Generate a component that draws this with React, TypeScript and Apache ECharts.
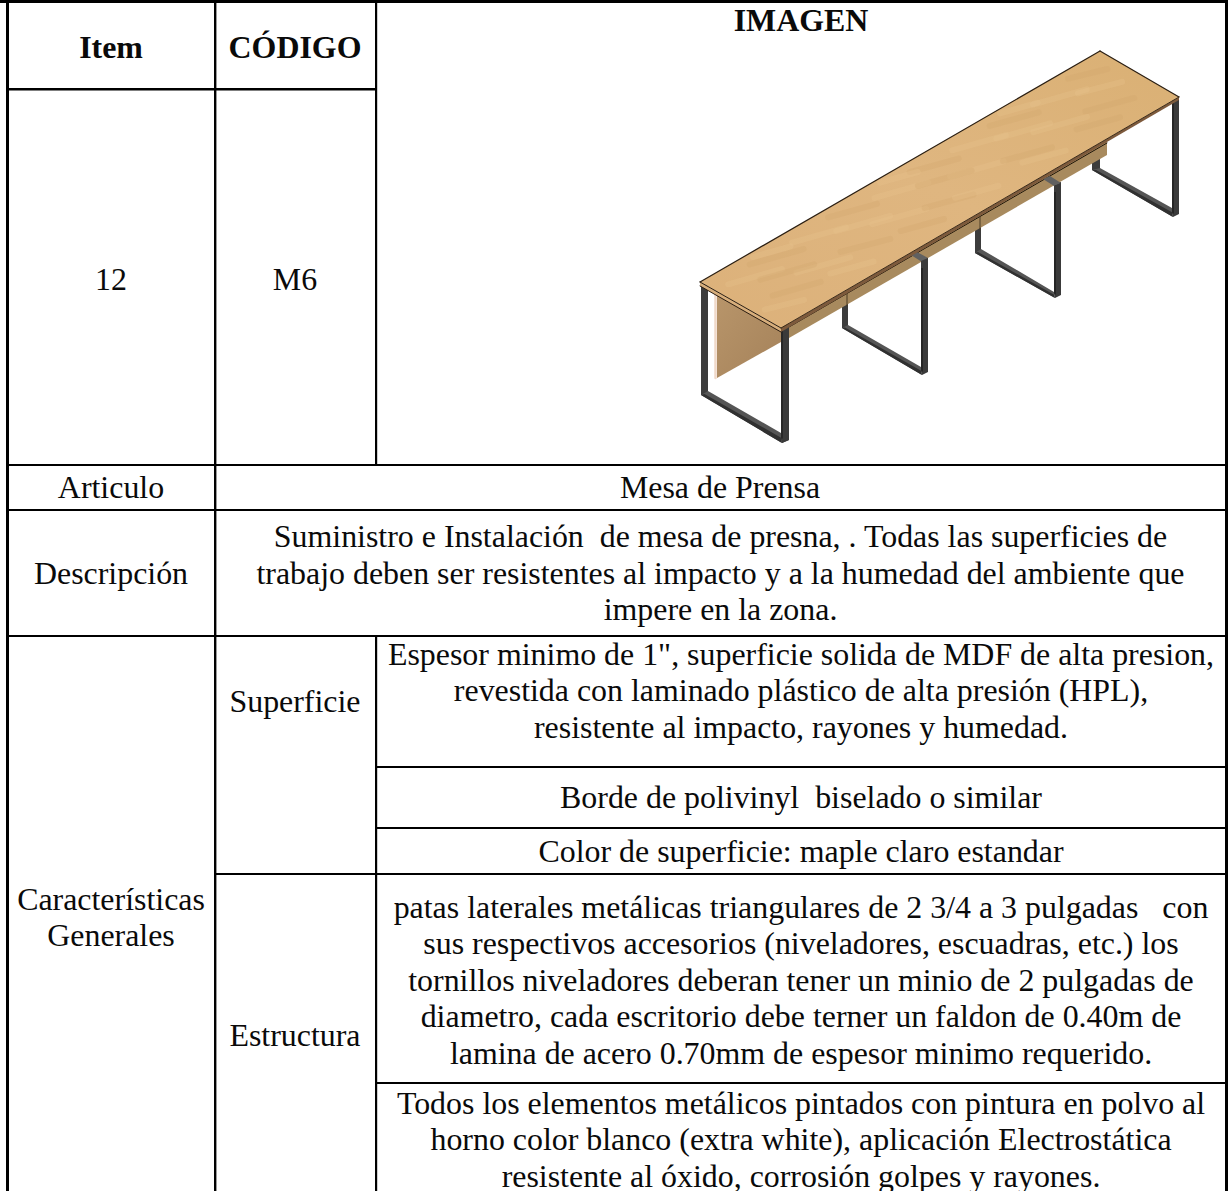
import React, { useEffect, useRef } from "react";
import * as echarts from "echarts";

const headerCells = ["Item", "CÓDIGO", "IMAGEN"];
const itemValue = "12";
const codeValue = "M6";
const articleLabel = "Articulo";
const articleValue = "Mesa de Prensa";
const descriptionLabel = "Descripción";
const descriptionLines = [
  "Suministro e Instalación  de mesa de presna, . Todas las superficies de",
  "trabajo deben ser resistentes al impacto y a la humedad del ambiente que",
  "impere en la zona.",
];
const generalLabel = ["Características", "Generales"];
const surfaceLabel = "Superficie";
const structureLabel = "Estructura";
const surfaceLines = [
  "Espesor minimo de 1\", superficie solida de MDF de alta presion,",
  "revestida con laminado plástico de alta presión (HPL),",
  "resistente al impacto, rayones y humedad.",
];
const edgeLine = "Borde de polivinyl  biselado o similar";
const colorLine = "Color de superficie: maple claro estandar";
const legLines = [
  "patas laterales metálicas triangulares de 2 3/4 a 3 pulgadas   con",
  "sus respectivos accesorios (niveladores, escuadras, etc.) los",
  "tornillos niveladores deberan tener un minio de 2 pulgadas de",
  "diametro, cada escritorio debe terner un faldon de 0.40m de",
  "lamina de acero 0.70mm de espesor minimo requerido.",
];
const paintLines = [
  "Todos los elementos metálicos pintados con pintura en polvo al",
  "horno color blanco (extra white), aplicación Electrostática",
  "resistente al óxido, corrosión golpes y rayones.",
];

// Wood grain strokes in table-top space: [along0, across0, along1, across1, lightness]
const grain: number[][] = [
  [0.03, 0.2, 0.13, 0.37, 1], [0.06, 0.6, 0.15, 0.75, 0], [0.1, 0.12, 0.2, 0.29, 0], [0.14, 0.5, 0.24, 0.67, 1],
  [0.2, 0.15, 0.3, 0.32, 1], [0.24, 0.55, 0.33, 0.72, 0], [0.3, 0.1, 0.39, 0.26, 0], [0.34, 0.45, 0.44, 0.62, 1],
  [0.4, 0.18, 0.5, 0.35, 1], [0.44, 0.6, 0.53, 0.76, 0], [0.5, 0.12, 0.59, 0.28, 0], [0.54, 0.42, 0.64, 0.59, 1],
  [0.6, 0.15, 0.7, 0.32, 1], [0.64, 0.58, 0.73, 0.74, 0], [0.7, 0.12, 0.79, 0.28, 0], [0.74, 0.46, 0.84, 0.63, 1],
  [0.8, 0.16, 0.9, 0.33, 1], [0.85, 0.56, 0.94, 0.72, 0], [0.9, 0.1, 0.97, 0.24, 0], [0.08, 0.35, 0.18, 0.52, 0],
  [0.28, 0.3, 0.38, 0.47, 1], [0.48, 0.32, 0.58, 0.49, 0], [0.68, 0.3, 0.78, 0.47, 1], [0.88, 0.32, 0.96, 0.47, 1],
  [0.02, 0.7, 0.09, 0.84, 1], [0.18, 0.72, 0.26, 0.86, 1], [0.36, 0.7, 0.44, 0.84, 0], [0.5, 0.68, 0.58, 0.82, 1],
  [0.66, 0.72, 0.74, 0.86, 1], [0.8, 0.7, 0.88, 0.84, 0], [0.12, 0.06, 0.19, 0.18, 1], [0.44, 0.05, 0.51, 0.17, 1],
  [0.74, 0.05, 0.81, 0.17, 1],
];

const topQuad = [[700, 282], [1100, 51], [1179, 97], [781, 328]];

const serif = '"Liberation Serif", "Times New Roman", serif';
const fontSize = 31.9;

function text(t: string, x: number, y: number, bold = false) {
  return {
    type: "text",
    x,
    y,
    silent: true,
    style: {
      text: t,
      fill: "#0a0a0a",
      font: `${bold ? "bold " : ""}${fontSize}px ${serif}`,
      textAlign: "center",
      textVerticalAlign: "middle",
    },
  };
}
function rect(x: number, y: number, width: number, height: number) {
  return { type: "rect", silent: true, shape: { x, y, width, height }, style: { fill: "#000" } };
}
function poly(points: number[][], fill: any, stroke?: string, lineWidth = 1) {
  return {
    type: "polygon",
    silent: true,
    shape: { points },
    style: stroke ? { fill, stroke, lineWidth, lineJoin: "round" } : { fill },
  };
}
function seg(x1: number, y1: number, x2: number, y2: number, stroke: string, lineWidth = 1, opacity = 1) {
  return {
    type: "line",
    silent: true,
    shape: { x1, y1, x2, y2 },
    style: { stroke, lineWidth, opacity, lineCap: "round" },
  };
}

// Square-tube leg frame: back post, bottom rail, front post
function legFrame(f: {
  bx0: number; bx1: number; bTop: number; bBot: number;
  inL: number[]; inR: number[];
  fx0: number; fx1: number; fTop: number; fBot: number; fTip: number[];
}) {
  const out: any[] = [];
  out.push(poly([[f.bx0, f.bTop], [f.bx1, f.bTop], [f.bx1, f.bBot], [f.bx0, f.bBot]], "#3c3c3c"));
  out.push(poly([[f.bx0, f.bBot], f.inL, f.inR, [f.fx0, f.fBot], f.fTip], "#555555"));
  out.push(
    poly(
      [
        [f.bx0, f.bBot],
        [(f.bx0 + f.inL[0]) / 2, (f.bBot + f.inL[1]) / 2 + 1],
        [(f.fTip[0] + f.inR[0]) / 2, (f.fTip[1] + f.inR[1]) / 2],
        f.fTip,
      ],
      "#303030",
    ),
  );
  out.push(poly([[f.fx0, f.fTop], [f.fx1, f.fTop - 1], [f.fx1, f.fBot - 3], f.fTip, [f.fx0, f.fBot - 5]], "#3a3a3a"));
  out.push(seg(f.fx0 + 1, f.fTop, f.fx0 + 1, f.fBot - 4, "#1f1f1f", 1.5));
  return out;
}

function tableDrawing() {
  const [A, B, C, D] = topQuad;
  const map = (u: number, v: number) => {
    // u runs along the long side A->B, v across the short side A->D
    return [
      A[0] + (B[0] - A[0]) * u + (D[0] - A[0]) * v,
      A[1] + (B[1] - A[1]) * u + (D[1] - A[1]) * v,
    ];
  };
  const out: any[] = [];
  // leg 4 (far)
  out.push(
    ...legFrame({
      bx0: 1092, bx1: 1100, bTop: 155, bBot: 170, inL: [1100, 168], inR: [1172, 208],
      fx0: 1172, fx1: 1179, fTop: 100, fBot: 217, fTip: [1173, 217],
    }),
  );
  // leg 3
  out.push(
    ...legFrame({
      bx0: 975, bx1: 981, bTop: 222, bBot: 253, inL: [981, 249], inR: [1054, 292],
      fx0: 1054, fx1: 1061, fTop: 183, fBot: 298, fTip: [1055, 298],
    }),
  );
  // leg 2
  out.push(
    ...legFrame({
      bx0: 842, bx1: 848, bTop: 300, bBot: 328, inL: [848, 325], inR: [921, 367],
      fx0: 921, fx1: 928, fTop: 258, fBot: 375, fTip: [922, 375],
    }),
  );
  // leg 1 back post & rail
  out.push(
    ...legFrame({
      bx0: 701, bx1: 708, bTop: 284, bBot: 395, inL: [708, 391], inR: [781, 433],
      fx0: 781, fx1: 789, fTop: 326, fBot: 443, fTip: [782, 443],
    }),
  );
  // modesty panel
  out.push(seg(715.5, 292, 715.5, 378, "#f0d9c8", 2.5));
  out.push(
    poly([[717, 295], [781, 331], [781, 342], [717, 378]], {
      type: "linear", x: 0, y: 0, x2: 1, y2: 1,
      colorStops: [{ offset: 0, color: "#b8956a" }, { offset: 1, color: "#a5825a" }],
    }),
  );
  // front post re-drawn on top of the panel
  out.push(poly([[781, 326], [789, 322], [789, 440], [782, 443], [781, 438]], "#3a3a3a"));
  out.push(seg(782, 330, 782, 438, "#222", 1.5));
  // apron
  out.push(poly([[789, 325], [1107, 140], [1107, 155], [789, 338]], "#a88a5e"));
  out.push(seg(789, 327, 1107, 143, "#1c1408", 1));
  out.push(seg(847, 292, 847, 306, "#4a3a22", 1));
  out.push(seg(980, 216, 980, 230, "#4a3a22", 1));
  // leg caps over apron
  out.push(poly([[911, 255], [917, 252], [928, 258], [922, 262]], "#606060"));
  out.push(poly([[1043, 179], [1050, 176], [1061, 183], [1054, 186]], "#606060"));
  out.push(poly([[921, 261], [928, 258], [928, 268], [921, 268]], "#3a3a3a"));
  out.push(poly([[1054, 186], [1061, 183], [1061, 192], [1054, 192]], "#3a3a3a"));
  // table-top edges
  out.push(poly([D, C, [1179, 100], [781, 332]], "#7d5a3c"));
  out.push(poly([A, D, [781, 332], [700, 286]], "#d7ae7c"));
  out.push(seg(700, 286, 781, 332, "#2a1c10", 1));
  // table-top surface
  out.push(
    poly(topQuad, {
      type: "linear", x: 0, y: 1, x2: 1, y2: 0,
      colorStops: [
        { offset: 0, color: "#dcb17a" },
        { offset: 0.5, color: "#dfb680" },
        { offset: 1, color: "#dab074" },
      ],
    }),
  );
  for (const g of grain) {
    const p = map(g[0], g[1]);
    const q = map(g[2], g[3]);
    out.push(seg(p[0], p[1], q[0], q[1], g[4] ? "#e8c491" : "#d0a46c", 6, 0.28));
  }
  // outlines
  out.push(seg(700, 282, 1100, 51, "#2a1e12", 1.2));
  out.push(seg(1100, 51, 1179, 97, "#2a1e12", 1.2));
  out.push(seg(700, 282, 781, 328, "#2a1e12", 1));
  out.push(seg(781, 328, 1179, 97, "#3b2a18", 1));
  return out;
}

function buildElements() {
  const els: any[] = [];
  els.push({ type: "rect", silent: true, shape: { x: 0, y: 0, width: 1228, height: 1191 }, style: { fill: "#fff" } });
  els.push(...tableDrawing());

  // grid lines
  els.push(rect(0, 0, 1228, 3));
  els.push(rect(6, 0, 3, 1191));
  els.push(rect(214, 0, 2.4, 1191));
  els.push(rect(375, 0, 2.2, 465));
  els.push(rect(375, 636, 2.2, 555));
  els.push(rect(1225, 0, 3, 1191));
  els.push(rect(6, 88, 370, 2.4));
  els.push(rect(6, 464, 1222, 2));
  els.push(rect(6, 509, 1222, 2));
  els.push(rect(6, 635, 1222, 2));
  els.push(rect(375, 766, 853, 2));
  els.push(rect(375, 827, 853, 2));
  els.push(rect(215, 873, 1013, 2));
  els.push(rect(375, 1082, 853, 2));

  // header
  els.push(text(headerCells[0], 111, 47, true));
  els.push(text(headerCells[1], 295, 47, true));
  els.push(text(headerCells[2], 801, 20, true));
  els.push(text(itemValue, 111, 279));
  els.push(text(codeValue, 295, 279));
  // article
  els.push(text(articleLabel, 111, 487));
  els.push(text(articleValue, 720, 487));
  // description
  els.push(text(descriptionLabel, 111, 573));
  descriptionLines.forEach((l, i) => els.push(text(l, 720.5, 536.5 + i * 36.5)));
  // general
  generalLabel.forEach((l, i) => els.push(text(l, 111, 899 + i * 36.5)));
  els.push(text(surfaceLabel, 295, 701));
  els.push(text(structureLabel, 295, 1035));
  surfaceLines.forEach((l, i) => els.push(text(l, 801, 654 + i * 36.5)));
  els.push(text(edgeLine, 801, 797));
  els.push(text(colorLine, 801, 851));
  legLines.forEach((l, i) => els.push(text(l, 801, 907 + i * 36.5)));
  paintLines.forEach((l, i) => els.push(text(l, 801, 1103 + i * 36.5)));
  return els;
}

export default function App() {
  const ref = useRef<HTMLDivElement>(null);
  useEffect(() => {
    if (!ref.current) return;
    const chart = echarts.init(ref.current, undefined, { renderer: "svg" });
    chart.setOption({
      animation: false,
      backgroundColor: "#ffffff",
      graphic: { elements: buildElements() },
    });
    return () => chart.dispose();
  }, []);
  return <div ref={ref} style={{ position: "absolute", left: 0, top: 0, width: 1228, height: 1191 }} />;
}
